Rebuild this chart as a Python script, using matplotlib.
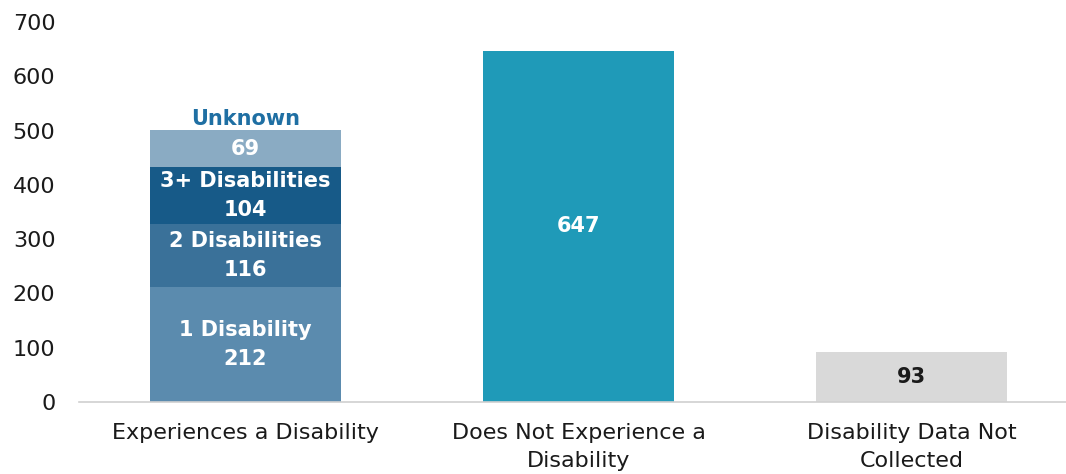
import matplotlib.pyplot as plt

# данные
categories = ['Experiences a Disability', 'Does Not Experience a\nDisability',
              'Disability Data Not\nCollected']
stack_names = ['1 Disability', '2 Disabilities', '3+ Disabilities', 'Unknown']
stack_values = [212, 116, 104, 69]
stack_colors = ['#5B8BAE', '#3A7199', '#175A88', '#8AABC3']
other_values = [647, 93]
other_colors = ['#1F9AB8', '#D9D9D9']
other_text = ['white', '#1a1a1a']

plt.rcParams['font.family'] = ['DejaVu Sans']

fig = plt.figure(figsize=(10.66, 4.74), dpi=100)
ax = fig.add_axes([79 / 1066, 1 - 402 / 474, 999 / 1066, 380 / 474])

width = 0.574
bottom = 0
for name, val, col in zip(stack_names, stack_values, stack_colors):
    ax.bar(0, val, width, bottom=bottom, color=col)
    if name == 'Unknown':
        ax.text(0, bottom + val / 2, str(val), ha='center', va='center',
                color='white', fontsize=15, fontweight='bold')
        ax.text(0, bottom + val + 1, name, ha='center', va='bottom',
                color='#1F6FA3', fontsize=15, fontweight='bold')
    else:
        ax.text(0, bottom + val / 2, '%s\n%d' % (name, val), ha='center',
                va='center', color='white', fontsize=15, fontweight='bold',
                linespacing=1.55)
    bottom += val

for i, (val, col, tc) in enumerate(zip(other_values, other_colors, other_text)):
    ax.bar(i + 1, val, width, color=col)
    ax.text(i + 1, val / 2, str(val), ha='center', va='center', color=tc,
            fontsize=15, fontweight='bold')

ax.set_xlim(-0.5, 2.5)
ax.set_ylim(0, 700)
ax.set_yticks(range(0, 701, 100))
ax.set_xticks(range(3))
ax.set_xticklabels(categories, linespacing=1.5)
ax.tick_params(axis='both', length=0, labelsize=16, colors='#1a1a1a')
ax.tick_params(axis='x', pad=15)
ax.tick_params(axis='y', pad=17)
for s in ['top', 'right', 'left']:
    ax.spines[s].set_visible(False)
ax.spines['bottom'].set_color('#D0D0D0')
ax.spines['bottom'].set_linewidth(1.2)

fig.savefig('out.png', dpi=100)
